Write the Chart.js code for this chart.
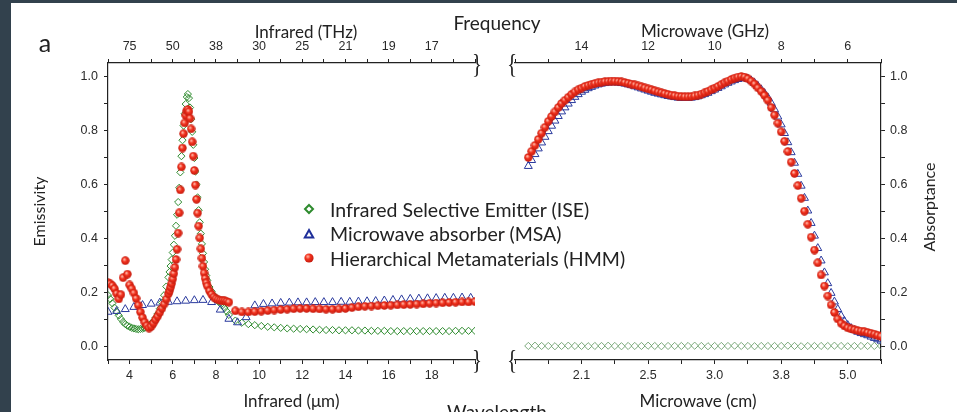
<!DOCTYPE html>
<html>
<head>
<meta charset="utf-8">
<script src="https://cdn.jsdelivr.net/npm/chart.js@4.4.1/dist/chart.umd.min.js"></script>
<style>
  body { margin: 0; background: #fff; }
  #wrap { position: relative; width: 957px; height: 412px; overflow: hidden; background: #fff; font-family: Lato, "Open Sans", sans-serif; color: #222; }
  canvas { position: absolute; top: 0; }
  .lbl { position: absolute; transform: translate(-50%, -50%); white-space: nowrap; }
  .dark { position: absolute; background: #32414d; }
  .brk { position: absolute; transform: translate(-50%, -50%) scaleX(0.75); font-family: "Liberation Serif", serif; font-size: 28px; line-height: 1; color: #222; }
  #legend { position: absolute; left: 300px; top: 197px; font-size: 19.5px; }
  #legend div { height: 24.5px; display: flex; align-items: center; white-space: nowrap; }
  #legend svg { width: 18px; height: 14px; margin-right: 12px; }
</style>
</head>
<body>
<div id="wrap">
  <canvas id="ir" width="490" height="412" style="left:0"></canvas>
  <canvas id="mw" width="462" height="412" style="left:495px"></canvas>

  <div class="lbl" style="left:45px;top:42px;font-size:25px">a</div>
  <div class="lbl" style="left:497px;top:22px;font-size:19px">Frequency</div>
  <div class="lbl" style="left:497px;top:411px;font-size:19px">Wavelength</div>
  <div class="lbl" style="left:306px;top:31px;font-size:17px">Infrared (THz)</div>
  <div class="lbl" style="left:705px;top:30px;font-size:17px">Microwave (GHz)</div>

  <div class="brk" style="left:477px;top:64px">}</div>
  <div class="brk" style="left:477px;top:360px">}</div>
  <div class="brk" style="left:512px;top:64px">{</div>
  <div class="brk" style="left:512px;top:360px">{</div>

  <div id="legend">
    <div><svg viewBox="0 0 18 14"><polygon points="9,3 13,7 9,11 5,7" fill="none" stroke="#2e8b2e" stroke-width="2"/></svg>Infrared Selective Emitter (ISE)</div>
    <div><svg viewBox="0 0 18 14"><polygon points="9,3 13.2,10.5 4.8,10.5" fill="none" stroke="#1f2f9a" stroke-width="2"/></svg>Microwave absorber (MSA)</div>
    <div><svg viewBox="0 0 18 14"><defs><radialGradient id="rb" cx="0.38" cy="0.35" r="0.7"><stop offset="0" stop-color="#ffb4a4"/><stop offset="0.4" stop-color="#f2321e"/><stop offset="1" stop-color="#c0180c"/></radialGradient></defs><circle cx="9" cy="7" r="4.6" fill="url(#rb)"/></svg>Hierarchical Metamaterials (HMM)</div>
  </div>

  <div class="dark" style="left:0;top:0;width:11px;height:412px"></div>
  <div class="dark" style="left:0;top:0;width:957px;height:3px"></div>
</div>

<script>
// infrared panel, wavelength in um
const irWl = [
  3.0, 3.1, 3.2, 3.3, 3.4, 3.5, 3.6, 3.7, 3.8, 3.9,
  4.0, 4.1, 4.2, 4.3, 4.4, 4.5, 4.6, 4.7, 4.8, 4.9,
  5.0, 5.1, 5.2, 5.3, 5.4, 5.5, 5.6, 5.7,
  5.8, 5.85, 5.9, 5.95, 6.0, 6.05, 6.1, 6.15, 6.2, 6.25,
  6.3, 6.35, 6.4, 6.45, 6.5, 6.55, 6.6, 6.65, 6.7, 6.75,
  6.8, 6.85, 6.9, 6.95, 7.0, 7.05, 7.1, 7.15, 7.2, 7.25,
  7.3, 7.35, 7.4, 7.45, 7.5, 7.55, 7.6,
  7.7, 7.8, 7.9, 8.0, 8.1, 8.2, 8.3, 8.4, 8.5, 8.6,
  8.9, 9.2, 9.5, 9.8, 10.1, 10.4, 10.7, 11.0, 11.3, 11.6,
  11.9, 12.2, 12.5, 12.8, 13.1, 13.4, 13.7, 14.0, 14.3, 14.6,
  14.9, 15.2, 15.5, 15.8, 16.1, 16.4, 16.7, 17.0, 17.3, 17.6,
  17.9, 18.2, 18.5, 18.8, 19.1, 19.4, 19.7, 20.0
];
const irIse = [
  .190, .176, .160, .144, .129, .115, .102, .091, .083, .077,
  .073, .069, .067, .065, .064, .065, .066, .069, .073, .078,
  .085, .094, .106, .121, .140, .163, .190, .222,
  .256, .276, .298, .322, .348, .377, .410, .447, .488, .535,
  .588, .645, .705, .764, .818, .862, .898, .924, .935, .920,
  .885, .842, .795, .747, .698, .648, .600, .552, .505, .460,
  .418, .380, .345, .313, .286, .263, .245,
  .220, .204, .190, .178, .168, .160, .152, .142, .130, .117,
  .096, .088, .083, .079, .076, .073, .071, .069, .067, .066,
  .065, .064, .063, .062, .061, .061, .060, .060, .060, .059,
  .059, .058, .058, .058, .057, .057, .057, .057, .057, .057,
  .057, .057, .057, .057, .058, .058, .058, .058
];
const irHmm = [
  .236, .232, .225, .214, .196, .176, .192, .255, .318, .268,
  .228, .214, .198, .178, .153, .128, .107, .090, .077, .068,
  .074, .086, .099, .112, .126, .141, .157, .175,
  .195, .206, .219, .233, .250, .270, .293, .322, .360, .420,
  .495, .580, .665, .735, .788, .828, .856, .872, .878, .870,
  .845, .806, .758, .705, .652, .598, .545, .494, .446, .402,
  .362, .327, .297, .272, .252, .236, .224,
  .206, .193, .183, .177, .173, .171, .170, .169, .167, .164,
  .132, .128, .128, .129, .131, .133, .135, .137, .138, .140,
  .141, .141, .140, .139, .138, .138, .139, .141, .144, .147,
  .149, .150, .151, .152, .153, .154, .155, .156, .157, .158,
  .160, .161, .162, .163, .164, .165, .165, .166
];
const irMsaWl = [
  3.0, 3.4, 3.8, 4.2, 4.6, 5.0, 5.4, 5.8, 6.2, 6.6,
  7.0, 7.4, 7.8, 8.2, 8.6, 9.0, 9.4, 9.8, 10.2, 10.6,
  11.0, 11.4, 11.8, 12.2, 12.6, 13.0, 13.4, 13.8, 14.2, 14.6,
  15.0, 15.4, 15.8, 16.2, 16.6, 17.0, 17.4, 17.8, 18.2, 18.6,
  19.0, 19.4, 19.8
];
const irMsa = [
  .128, .131, .138, .146, .153, .158, .162, .165, .167, .169,
  .171, .172, .164, .136, .102, .089, .108, .152, .157, .159,
  .161, .162, .163, .163, .164, .164, .164, .165, .165, .166,
  .167, .168, .170, .172, .174, .176, .177, .178, .179, .180,
  .180, .181, .180
];

// microwave panel, frequency in GHz
const mwFreq = [
  15.6, 15.5, 15.4, 15.3, 15.2, 15.1, 15.0, 14.9, 14.8, 14.7,
  14.6, 14.5, 14.4, 14.3, 14.2, 14.1, 14.0, 13.9, 13.8, 13.7,
  13.6, 13.5, 13.4, 13.3, 13.2, 13.1, 13.0, 12.9, 12.8, 12.7,
  12.6, 12.5, 12.4, 12.3, 12.2, 12.1, 12.0, 11.9, 11.8, 11.7,
  11.6, 11.5, 11.4, 11.3, 11.2, 11.1, 11.0, 10.9, 10.8, 10.7,
  10.6, 10.5, 10.4, 10.3, 10.2, 10.1, 10.0, 9.9, 9.8, 9.7,
  9.6, 9.5, 9.4, 9.3, 9.2, 9.1, 9.0, 8.9, 8.8, 8.7,
  8.6, 8.5, 8.4, 8.3, 8.2, 8.1, 8.0, 7.9, 7.8, 7.7,
  7.6, 7.5, 7.4, 7.3, 7.2, 7.1, 7.0, 6.9, 6.8, 6.7,
  6.6, 6.5, 6.4, 6.3, 6.2, 6.1, 6.0, 5.9, 5.8, 5.7,
  5.6, 5.5, 5.4, 5.3, 5.2, 5.1, 5.0
];
const mwHmm = [
  .700, .723, .745, .767, .790, .812, .834, .852, .869, .885,
  .900, .912, .923, .934, .943, .951, .957, .963, .967, .971,
  .974, .977, .979, .981, .982, .983, .983, .982, .980, .978,
  .975, .972, .969, .965, .962, .958, .954, .951, .947, .943,
  .940, .937, .934, .931, .929, .927, .926, .925, .925, .926,
  .928, .931, .935, .940, .945, .951, .957, .963, .970, .977,
  .983, .989, .994, .998, 1.000, .998, .992, .983, .972, .958,
  .945, .930, .912, .885, .857, .827, .795, .760, .722, .683,
  .641, .596, .549, .501, .453, .405, .357, .310, .265, .224,
  .187, .154, .126, .102, .086, .076, .069, .065, .062, .059,
  .057, .055, .052, .049, .046, .042, .038
];
const mwMsa = [
  .668, .690, .712, .733, .755, .776, .797, .817, .836, .853,
  .870, .885, .899, .912, .924, .934, .943, .950, .956, .961,
  .966, .970, .973, .975, .977, .978, .978, .977, .975, .973,
  .970, .967, .963, .959, .955, .951, .947, .943, .939, .936,
  .933, .930, .927, .925, .923, .921, .920, .920, .920, .921,
  .923, .926, .930, .934, .939, .945, .951, .957, .963, .970,
  .976, .981, .986, .990, .993, .994, .991, .985, .976, .965,
  .952, .938, .922, .902, .878, .851, .822, .790, .756, .719,
  .680, .639, .595, .550, .503, .457, .410, .364, .318, .274,
  .234, .198, .166, .138, .114, .094, .079, .068, .060, .054,
  .049, .045, .041, .036, .031, .026, .021
];
const mwIseFreq = [
  15.6, 15.4, 15.2, 15.0, 14.8, 14.6, 14.4, 14.2, 14.0, 13.8,
  13.6, 13.4, 13.2, 13.0, 12.8, 12.6, 12.4, 12.2, 12.0, 11.8,
  11.6, 11.4, 11.2, 11.0, 10.8, 10.6, 10.4, 10.2, 10.0, 9.8,
  9.6, 9.4, 9.2, 9.0, 8.8, 8.6, 8.4, 8.2, 8.0, 7.8,
  7.6, 7.4, 7.2, 7.0, 6.8, 6.6, 6.4, 6.2, 6.0, 5.8,
  5.6, 5.4, 5.2, 5.0
];
const mwIse = [
  .002, .003, .002, .002, .001, .002, .003, .002, .002, .001,
  .002, .002, .003, .002, .001, .002, .002, .002, .003, .002,
  .001, .002, .002, .002, .002, .003, .002, .001, .002, .002,
  .002, .003, .002, .002, .001, .002, .002, .002, .002, .003,
  .002, .001, .002, .002, .002, .002, .003, .002, .001, .002,
  .002, .002, .002, .002
];

// y tick positions (labels on even tenths only)
const yTicks = [0, 0.1, 0.2, 0.3, 0.4, 0.5, 0.6, 0.7, 0.8, 0.9, 1.0];

const ink = '#222';
const green = '#2e8b2e';
const navy = '#2a3a9e';

Chart.defaults.font.family = '"Liberation Sans", Arial, sans-serif';
Chart.defaults.font.size = 12.5;
Chart.defaults.color = '#2a2a2a';

function pairs(xs, ys) {
  return xs.map((x, i) => ({ x: x, y: ys[i] }));
}

// small shaded red sphere used as point marker
function makeBall(d) {
  const c = document.createElement('canvas');
  c.width = c.height = d;
  const g = c.getContext('2d');
  const r = d / 2;
  const grad = g.createRadialGradient(r * 0.75, r * 0.7, r * 0.1, r, r, r);
  grad.addColorStop(0, '#ffb4a4');
  grad.addColorStop(0.4, '#f2321e');
  grad.addColorStop(1, '#c0180c');
  g.fillStyle = grad;
  g.beginPath();
  g.arc(r, r, r - 0.3, 0, Math.PI * 2);
  g.fill();
  return c;
}
const ball = makeBall(9);

function xAxis(position, min, max, label, fitHeight, title) {
  return {
    type: 'linear', position: position, min: min, max: max, reverse: min === 5,
    ticks: { stepSize: 1, autoSkip: false, maxRotation: 0, includeBounds: false,
      padding: position === 'top' ? 5 : 4, callback: label },
    grid: { drawOnChartArea: false, tickLength: 4, color: ink },
    border: { color: ink, width: 1.2 },
    title: title
      ? { display: true, text: title, color: ink, font: { family: 'Lato', size: 17 }, padding: { top: 0, bottom: 0 } }
      : { display: false },
    afterFit: s => { s.height = fitHeight; }
  };
}

// right-hand title is drawn reading bottom-to-top like the left one
const rightTitle = {
  id: 'rightTitle',
  afterDraw(chart) {
    const ctx = chart.ctx;
    ctx.save();
    ctx.translate(435, 207);
    ctx.rotate(-Math.PI / 2);
    ctx.font = '16px Lato';
    ctx.fillStyle = ink;
    ctx.textAlign = 'center';
    ctx.textBaseline = 'middle';
    ctx.fillText('Absorptance', 0, 0);
    ctx.restore();
  }
};

function yAxis(position, fitWidth, title) {
  return {
    type: 'linear', position: position, min: -0.05, max: 1.05,
    afterBuildTicks: s => { s.ticks = yTicks.map(v => ({ value: v })); },
    ticks: { padding: position === 'left' ? 6 : 5,
      callback: v => Math.round(v * 10) % 2 === 0 ? v.toFixed(1) : '' },
    grid: { drawOnChartArea: false, tickLength: 4, color: ink },
    border: { color: ink, width: 1.2 },
    title: title
      ? { display: true, text: title, color: ink, font: { family: 'Lato', size: 16 }, padding: { top: 30, bottom: 0 } }
      : { display: false },
    afterFit: s => { s.width = fitWidth; }
  };
}

const common = {
  responsive: false,
  animation: false,
  devicePixelRatio: 1,
  plugins: { legend: { display: false }, tooltip: { enabled: false } }
};

new Chart(document.getElementById('ir'), {
  type: 'scatter',
  data: {
    datasets: [
      { label: 'HMM', data: pairs(irWl, irHmm), pointStyle: ball, pointRadius: 4.5 },
      { label: 'MSA', data: pairs(irMsaWl, irMsa), pointStyle: 'triangle', pointRadius: 4.6,
        borderColor: navy, backgroundColor: 'rgba(0,0,0,0)', borderWidth: 1 },
      { label: 'ISE', data: pairs(irWl, irIse), pointStyle: 'rectRot', pointRadius: 3.6,
        borderColor: green, backgroundColor: 'rgba(0,0,0,0)', borderWidth: 1 }
    ]
  },
  options: Object.assign({}, common, {
    layout: { padding: { right: 15 } },
    scales: {
      x: xAxis('bottom', 3, 20, v => (v % 2 === 0 && v < 20) ? String(v) : '', 52, 'Infrared (μm)'),
      x2: xAxis('top', 3, 20, v => (v % 2 === 0 && v < 20) ? String(Math.round(300 / v)) : '', 63, null),
      y: yAxis('left', 108, 'Emissivity')
    }
  })
});

new Chart(document.getElementById('mw'), {
  type: 'scatter',
  data: {
    datasets: [
      { label: 'HMM', data: pairs(mwFreq, mwHmm), pointStyle: ball, pointRadius: 4.5 },
      { label: 'MSA', data: pairs(mwFreq, mwMsa), pointStyle: 'triangle', pointRadius: 4.6,
        borderColor: navy, backgroundColor: 'rgba(0,0,0,0)', borderWidth: 1 },
      { label: 'ISE', data: pairs(mwIseFreq, mwIse), pointStyle: 'rectRot', pointRadius: 3.6,
        borderColor: '#7aa87a', backgroundColor: 'rgba(0,0,0,0)', borderWidth: 1 }
    ]
  },
  options: Object.assign({}, common, {
    layout: { padding: { left: 20 } },
    scales: {
      x: xAxis('bottom', 5, 16, v => (v % 2 === 0 && v < 16) ? (30 / v).toFixed(1) : '', 52, 'Microwave (cm)'),
      x2: xAxis('top', 5, 16, v => (v % 2 === 0 && v < 16) ? String(v) : '', 63, null),
      y: yAxis('right', 76, null)
    }
  }),
  plugins: [rightTitle]
});
</script>
</body>
</html>
